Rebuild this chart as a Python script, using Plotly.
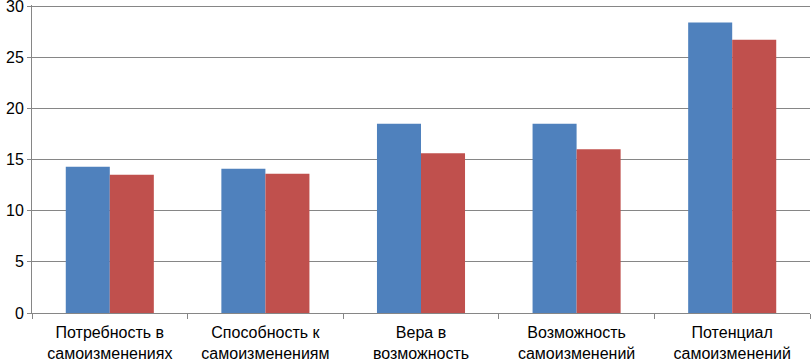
import plotly.graph_objects as go

categories = ["Потребность в<br>самоизменениях", "Способность к<br>самоизменениям",
              "Вера в<br>возможность", "Возможность<br>самоизменений", "Потенциал<br>самоизменений"]
series_a = [14.3, 14.1, 18.5, 18.5, 28.4]
series_b = [13.5, 13.6, 15.6, 16.0, 26.7]
y_ticks = [0, 5, 10, 15, 20, 25, 30]

fig = go.Figure()
fig.add_trace(go.Bar(x=categories, y=series_a, marker=dict(color="#4F81BD", line=dict(width=0))))
fig.add_trace(go.Bar(x=categories, y=series_b, marker=dict(color="#C0504D", line=dict(width=0))))

fig.update_layout(
    width=811, height=359,
    margin=dict(l=32, r=1, t=5, b=46),
    paper_bgcolor="white", plot_bgcolor="white",
    barmode="group", bargap=0.434, bargroupgap=0,
    showlegend=False,
    font=dict(family="Liberation Sans, Arial, sans-serif", size=16, color="black"),
)
fig.update_yaxes(range=[0, 30.1], tickvals=y_ticks, showgrid=True, gridcolor="#868686", gridwidth=1,
                 showline=True, linecolor="#868686", linewidth=1, ticks="outside", ticklen=4,
                 tickcolor="#868686", zeroline=False, tickfont=dict(size=16), automargin=False,
                 ticklabeloverflow="allow")
fig.update_xaxes(showline=True, linecolor="#868686", linewidth=1, ticks="outside", ticklen=5,
                 tickcolor="#868686", tickson="boundaries", tickfont=dict(size=16), automargin=False,
                 ticklabeloverflow="allow", ticklabelstandoff=5)

fig.write_html("out.html", config={"displayModeBar": False},
               post_script="document.body.style.margin='0';document.body.style.overflow='hidden';")
